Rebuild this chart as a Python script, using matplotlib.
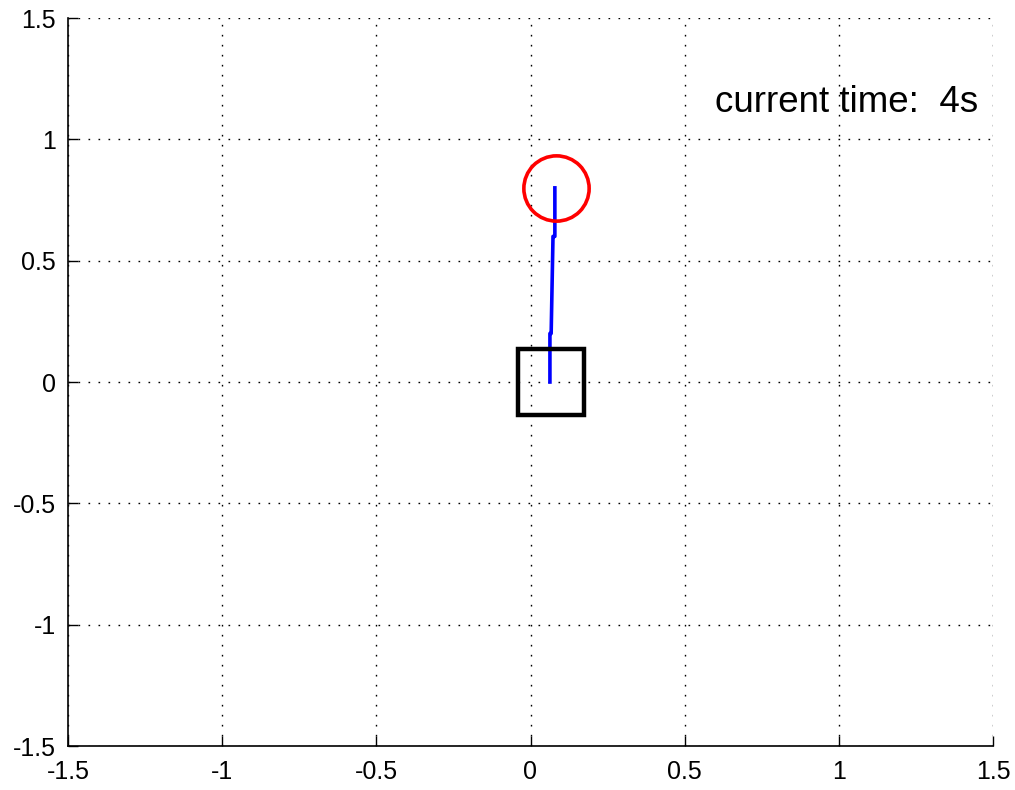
import matplotlib
matplotlib.use("Agg")
import matplotlib.pyplot as plt

# pendulum state at t = 4 s
cart_x = [0.068]
cart_y = [0.0]
rod_x = [0.063, 0.063, 0.067, 0.073, 0.079, 0.079]
rod_y = [0.0, 0.2, 0.2, 0.6, 0.6, 0.8]
bob_x = [0.084]
bob_y = [0.80]
ticks = [-1.5, -1, -0.5, 0, 0.5, 1, 1.5]
tick_labels = ["-1.5", "-1", "-0.5", "0", "0.5", "1", "1.5"]
time_label = "current time:  4s"

plt.rcParams['font.family'] = ['Liberation Sans', 'DejaVu Sans']

fig = plt.figure(figsize=(10.15, 7.90), dpi=100)
ax = fig.add_axes([68/1015, 44/790, 925/1015, 728/790])

ax.plot(rod_x, rod_y, color='#0000ff', lw=2.6, zorder=3)
ax.plot(cart_x, cart_y, marker='s', ms=47, mfc='none', mec='black', mew=3.2,
        ls='none', zorder=4)
ax.plot(bob_x, bob_y, marker='o', ms=47, mfc='none', mec='#ff0000', mew=2.6,
        ls='none', zorder=4)

ax.text(1.451, 1.113, time_label, ha='right', va='baseline', fontsize=26.5)

ax.set_xlim(-1.5, 1.5)
ax.set_ylim(-1.5, 1.5)
ax.set_xticks(ticks)
ax.set_xticklabels(tick_labels)
ax.set_yticks(ticks)
ax.set_yticklabels(tick_labels)
ax.tick_params(direction='in', length=7, width=1, labelsize=18)
ax.tick_params(axis='x', pad=10)
ax.tick_params(axis='y', pad=8.5)

ax.grid(True, color='black', lw=1.0, ls=(0, (1.2, 6)))
ax.set_axisbelow(True)
ax.spines['top'].set_visible(False)
ax.spines['right'].set_visible(False)
ax.spines['left'].set_linewidth(1.2)
ax.spines['bottom'].set_linewidth(1.2)

fig.savefig("out.png", dpi=100)
